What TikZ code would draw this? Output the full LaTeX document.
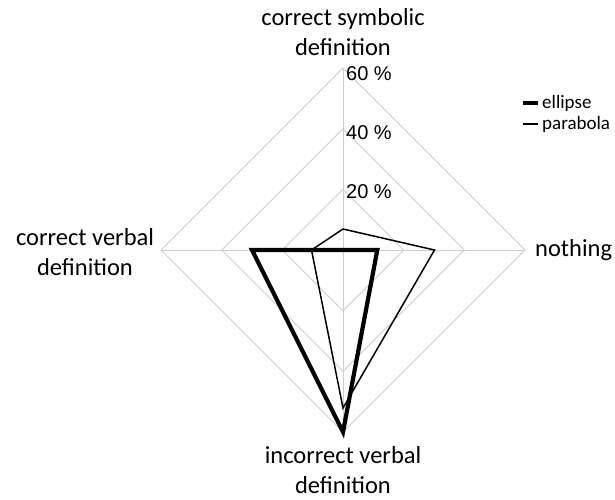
\documentclass[tikz,border=0pt]{standalone}
\usepackage{fontspec}
\setmainfont{Carlito}
\newfontfamily\pctfont{Liberation Sans}
\usetikzlibrary{calc}
\definecolor{gridgray}{RGB}{205,205,205}
\begin{document}
\begin{tikzpicture}[x=1pt,y=-1pt,
  grid/.style={draw=gridgray,line width=0.9pt},
  thickser/.style={draw=black,line width=4.2pt,line join=miter},
  thinser/.style={draw=black,line width=1.5pt,line join=miter},
  axlabel/.style={font=\fontsize{24.5}{30}\selectfont,align=center,inner sep=0pt},
  pct/.style={font=\pctfont\fontsize{20}{22}\selectfont,anchor=west,inner sep=0pt},
  leg/.style={font=\fontsize{19}{22}\selectfont,anchor=west,inner sep=0pt}]
\useasboundingbox (0,0) rectangle (615,499);
% grid
\coordinate (C) at (343,250);
\foreach \r/\n in {60.67/a,121.33/b,182/c}{
  \coordinate (T\n) at ($(C)+(0,-\r)$);
  \coordinate (R\n) at ($(C)+(\r,0)$);
  \coordinate (B\n) at ($(C)+(0,\r)$);
  \coordinate (L\n) at ($(C)+(-\r,0)$);
  \draw[grid] (T\n) -- (R\n) -- (B\n) -- (L\n) -- cycle;
}
\draw[grid] (Tc) -- (Bc);
\draw[grid] (Lc) -- (Rc);
% series data
\coordinate (e1) at (C);
\coordinate (e2) at ($(C)+(34.3,0)$);
\coordinate (e3) at ($(C)+(0,182)$);
\coordinate (e4) at ($(C)+(-91,0)$);
\coordinate (p1) at ($(C)+(0,-21)$);
\coordinate (p2) at ($(C)+(91.5,0)$);
\coordinate (p3) at ($(C)+(0,158)$);
\coordinate (p4) at ($(C)+(-31.5,0)$);
\draw[thinser] (p1) -- (p2) -- (p3) -- (p4) -- cycle;
\draw[thickser] (e1) -- (e2) -- (e3) -- (e4) -- cycle;
% axis value labels
\node[pct] (l60) at (346,74) {60 \%};
\node[pct] (l40) at (346,133) {40 \%};
\node[pct] (l20) at (346,192) {20 \%};
% category labels
\node[axlabel] (top) at (343,32) {correct symbolic\\definition};
\node[axlabel,anchor=west] (right) at (535,250) {nothing};
\node[axlabel] (bottom) at (343,470) {incorrect verbal\\definition};
\node[axlabel] (left) at (85,252) {correct verbal\\definition};
% legend
\coordinate (k1a) at (523,103);
\coordinate (k1b) at (538,103);
\coordinate (k2a) at (523,124);
\coordinate (k2b) at (538,124);
\draw[thickser,line width=4.5pt] (k1a) -- (k1b);
\draw[thinser] (k2a) -- (k2b);
\node[leg] (kell) at (542,103) {ellipse};
\node[leg] (kpar) at (542,124) {parabola};
\end{tikzpicture}
\end{document}
